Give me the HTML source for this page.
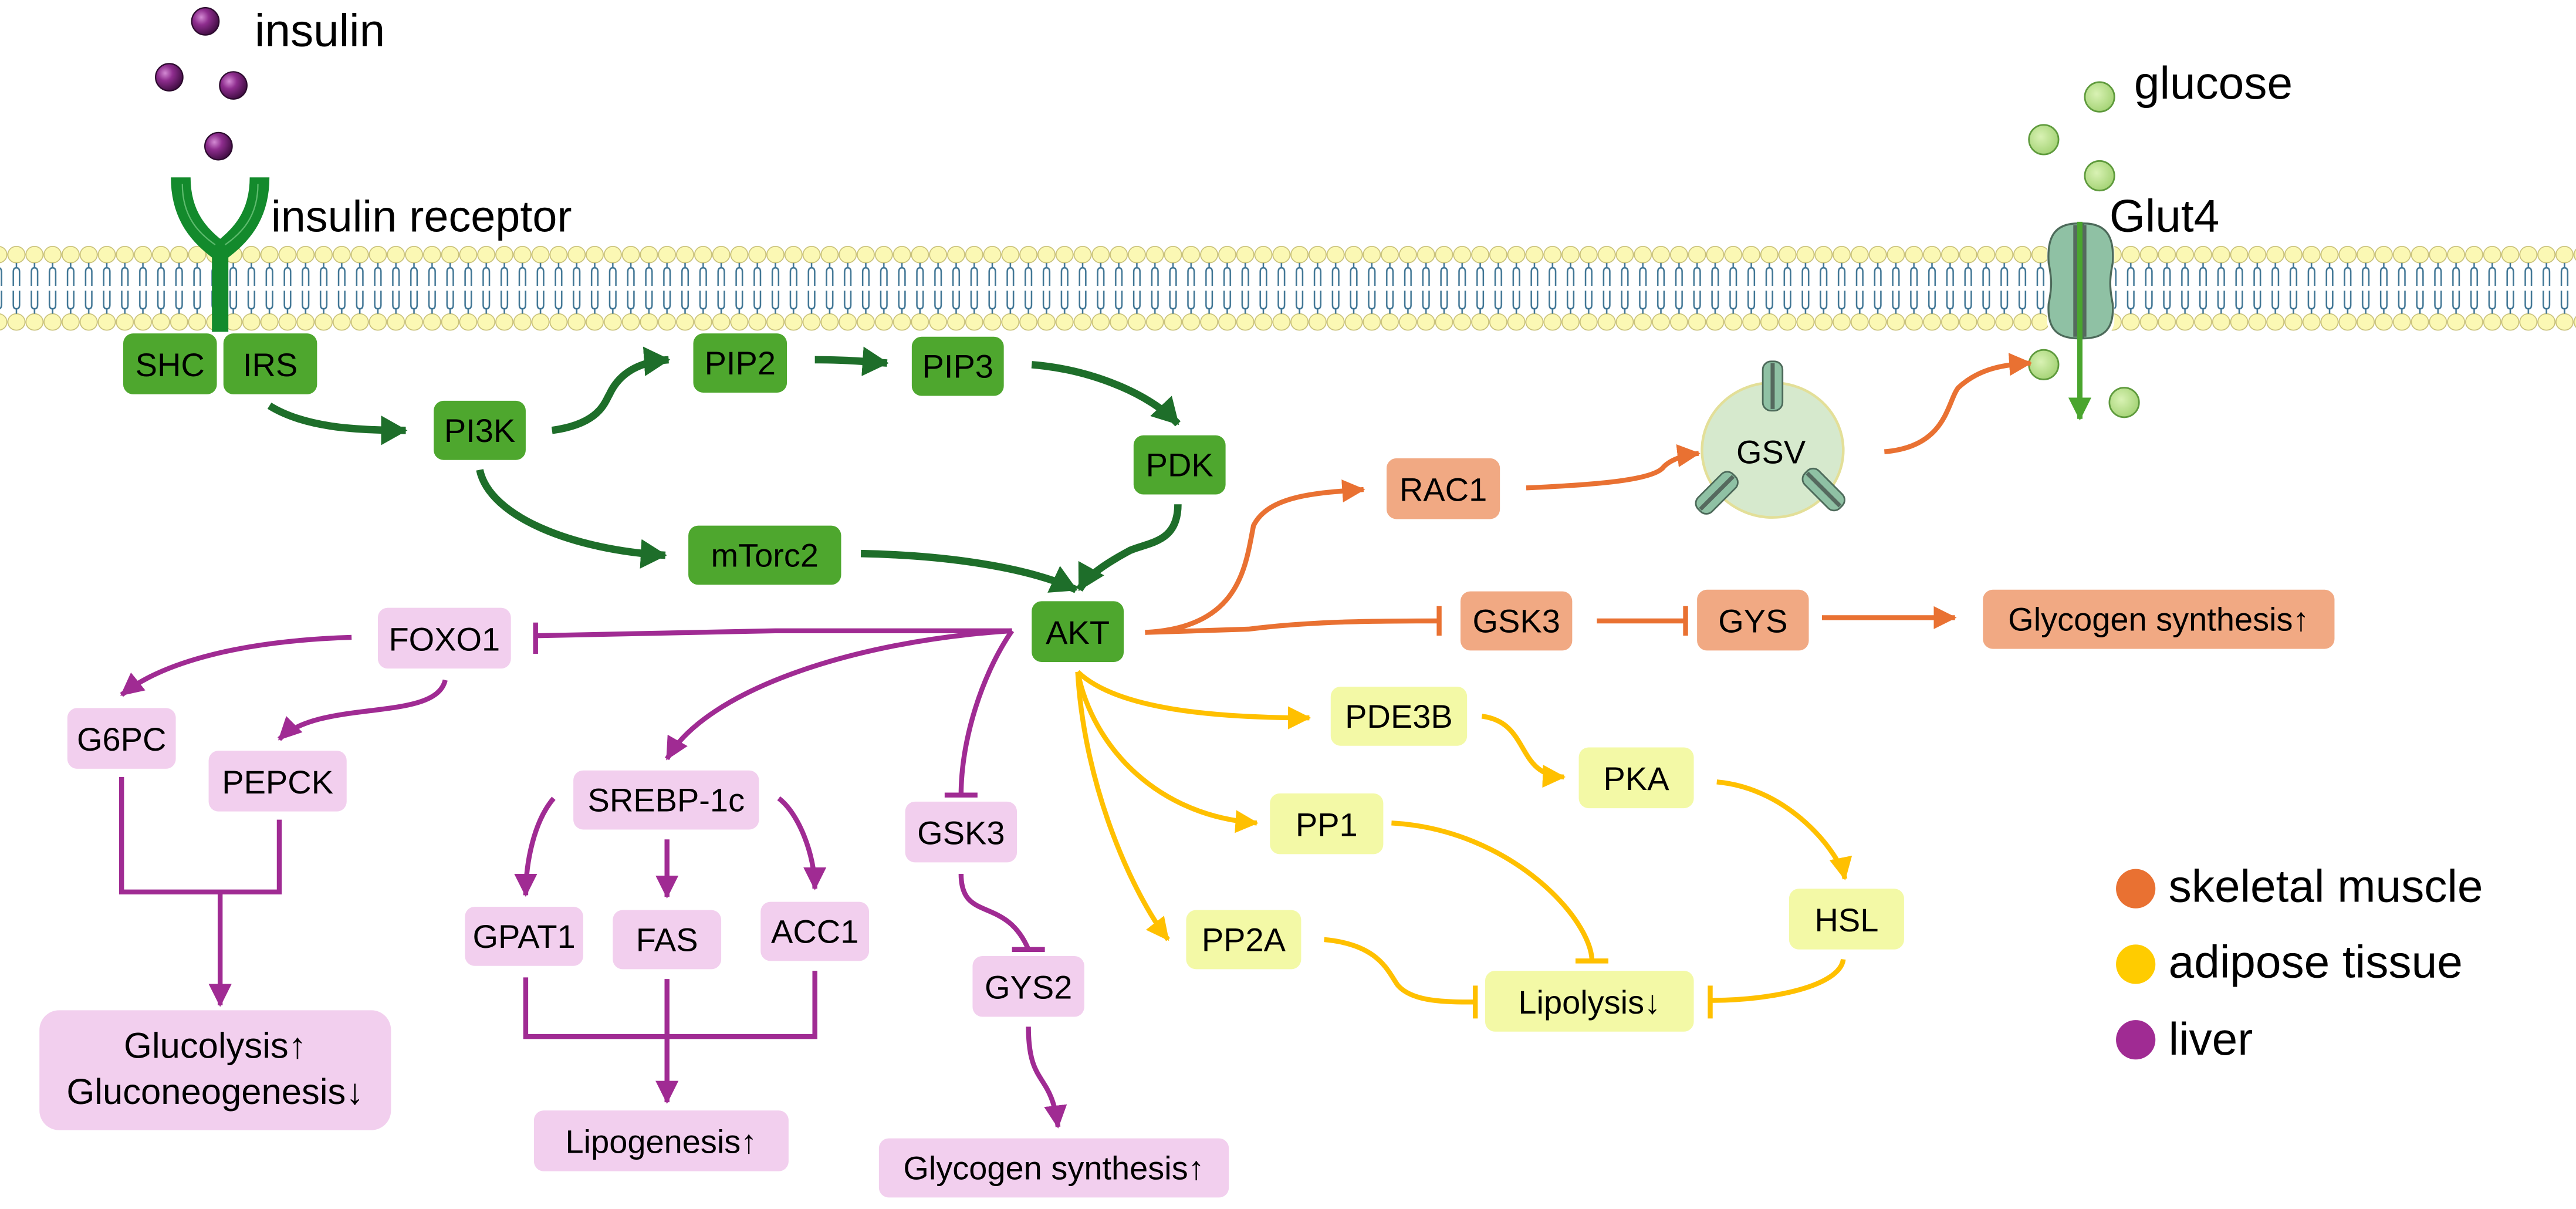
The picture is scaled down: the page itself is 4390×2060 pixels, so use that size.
<!DOCTYPE html>
<html><head><meta charset="utf-8"><style>
html,body{margin:0;padding:0;background:#fff;}
svg{display:block;}
text{font-family:"Liberation Sans",sans-serif;fill:#000;}
</style></head><body>
<svg width="4390" height="2060" viewBox="0 0 1568 736" preserveAspectRatio="none" xmlns="http://www.w3.org/2000/svg">
<defs>
<pattern id="mem" x="4.5" y="0" width="11" height="736" patternUnits="userSpaceOnUse">
<ellipse cx="5.5" cy="155" rx="5.2" ry="5" fill="#fbf8b4" stroke="#c8c078" stroke-width="0.6"/>
<ellipse cx="5.5" cy="196" rx="5.2" ry="5" fill="#fbf8b4" stroke="#c8c078" stroke-width="0.6"/>
<path d="M5.5 160 v3 M3.6 174 v-8.5 q0-2.5 1.9-2.5 q1.9 0 1.9 2.5 v8.5 M5.5 191 v-3 M3.6 177 v8.5 q0 2.5 1.9 2.5 q1.9 0 1.9-2.5 v-8.5" stroke="#3f7594" stroke-width="0.9" fill="none"/>
</pattern>
<marker id="ag" markerUnits="userSpaceOnUse" markerWidth="16" markerHeight="18" refX="15" refY="9" orient="auto"><path d="M0 0 L16 9 L0 18 z" fill="#1e6e2a"/></marker>
<marker id="ap" markerUnits="userSpaceOnUse" markerWidth="14" markerHeight="14" refX="13" refY="7" orient="auto"><path d="M0 0 L14 7 L0 14 z" fill="#a02b93"/></marker>
<marker id="ao" markerUnits="userSpaceOnUse" markerWidth="14" markerHeight="14" refX="13" refY="7" orient="auto"><path d="M0 0 L14 7 L0 14 z" fill="#e97132"/></marker>
<marker id="ay" markerUnits="userSpaceOnUse" markerWidth="14" markerHeight="14" refX="13" refY="7" orient="auto"><path d="M0 0 L14 7 L0 14 z" fill="#ffc000"/></marker>
<marker id="agl" markerUnits="userSpaceOnUse" markerWidth="14" markerHeight="14" refX="13" refY="7" orient="auto"><path d="M0 0 L14 7 L0 14 z" fill="#4aa52e"/></marker>
<radialGradient id="ins" cx="0.35" cy="0.35" r="0.7"><stop offset="0" stop-color="#d38ad3"/><stop offset="0.4" stop-color="#8e2d8e"/><stop offset="1" stop-color="#3e0c40"/></radialGradient>
<radialGradient id="glu" cx="0.4" cy="0.4" r="0.7"><stop offset="0" stop-color="#d9f2b4"/><stop offset="1" stop-color="#9fd06f"/></radialGradient>
</defs>

<rect x="0" y="145" width="1568" height="60" fill="url(#mem)"/>

<g stroke="#2c0a2e" stroke-width="0.8">
<circle cx="125" cy="13" r="8.3" fill="url(#ins)"/>
<circle cx="103" cy="47" r="8.3" fill="url(#ins)"/>
<circle cx="142" cy="52" r="8.3" fill="url(#ins)"/>
<circle cx="133" cy="89" r="8.3" fill="url(#ins)"/>
</g>
<text x="155" y="28" font-size="28">insulin</text>

<g fill="none" stroke-linecap="butt">
<path d="M110 108 C110 132 122 144 134 153 M158 108 C158 132 146 144 134 153" stroke="#138a2c" stroke-width="12"/>
<path d="M134 150 V202" stroke="#138a2c" stroke-width="10"/>
<path d="M111 112 C111 132 121 142 131 149 M157 112 C157 132 147 142 137 149" stroke="#7fd08a" stroke-width="0.8" opacity="0.7"/>
</g>
<text x="165" y="141" font-size="27">insulin receptor</text>

<g stroke="#5e9a3c" stroke-width="1">
<circle cx="1278" cy="59" r="9" fill="url(#glu)"/>
<circle cx="1244" cy="85" r="9" fill="url(#glu)"/>
<circle cx="1278" cy="107" r="9" fill="url(#glu)"/>
<circle cx="1244" cy="222" r="9" fill="url(#glu)"/>
<circle cx="1293" cy="245" r="9" fill="url(#glu)"/>
</g>
<text x="1299" y="60" font-size="28">glucose</text>
<text x="1284" y="141" font-size="28">Glut4</text>

<rect x="1246" y="135" width="41" height="72" rx="12" fill="#fff"/>
<path d="M1265 136 C1250 136 1246 145 1247 160 C1249 170 1249 175 1247 185 C1246 200 1252 206 1265 206 Z" fill="#8fc1a4" stroke="#4d6a5a" stroke-width="1.2"/>
<path d="M1268 136 C1283 136 1287 145 1286 160 C1284 170 1284 175 1286 185 C1287 200 1281 206 1268 206 Z" fill="#8fc1a4" stroke="#4d6a5a" stroke-width="1.2"/>
<rect x="1262" y="137" width="8" height="68" fill="#55695e"/>
<path d="M1266 135 V255" stroke="#4aa52e" stroke-width="3.2" marker-end="url(#agl)"/>

<ellipse cx="1079" cy="274" rx="43" ry="41" fill="#d6e9cd" stroke="#e3df98" stroke-width="1.6"/>
<g fill="#8fc1a4" stroke="#4d6a5a" stroke-width="1">
<rect x="1073" y="220" width="12" height="30" rx="5"/>
<rect x="1039" y="285" width="12" height="30" rx="5" transform="rotate(45 1045 300)"/>
<rect x="1104" y="283" width="12" height="30" rx="5" transform="rotate(-45 1110 298)"/>
</g>
<path d="M1079 221 V249" stroke="#55695e" stroke-width="2.5"/>
<path d="M1035 310 L1055 290 M1100 288 L1120 308" stroke="#55695e" stroke-width="2.5"/>
<text x="1078" y="282" font-size="20" text-anchor="middle">GSV</text>

<g fill="none" stroke="#1e6e2a" stroke-width="4.5" marker-end="url(#ag)">
<path d="M164 247 C185 260 215 262 247 262"/>
<path d="M336 262 C365 258 368 245 371 240 C378 225 392 220 407 219"/>
<path d="M496 219 C515 219 525 220 540 221"/>
<path d="M628 222 C665 225 700 240 717 258"/>
<path d="M292 286 C298 315 350 335 405 338"/>
<path d="M524 337 C575 338 625 345 655 359"/>
<path d="M717 307 C717 330 700 330 688 335 C675 342 662 350 657 359"/>
</g>

<g fill="none" stroke="#a02b93" stroke-width="3">
<path d="M616 384 L472 384 L327 387"/>
<path d="M326 379 V398"/>
<path d="M616 384 C520 390 430 420 406 462" marker-end="url(#ap)"/>
<path d="M616 384 C598 410 585 450 585 484"/>
<path d="M575 484 H595"/>
<path d="M214 388 C150 390 100 402 74 423" marker-end="url(#ap)"/>
<path d="M271 414 C265 440 195 425 170 450" marker-end="url(#ap)"/>
<path d="M74 473 V543 H170 V499"/>
<path d="M134 543 V612" marker-end="url(#ap)"/>
<path d="M337 486 C325 500 320 525 320 545" marker-end="url(#ap)"/>
<path d="M406 511 V546" marker-end="url(#ap)"/>
<path d="M474 486 C486 495 496 520 496 541" marker-end="url(#ap)"/>
<path d="M320 595 V631 H496 V591"/>
<path d="M406 596 V671" marker-end="url(#ap)"/>
<path d="M585 532 C585 562 612 545 626 578"/>
<path d="M616 578 H636"/>
<path d="M626 625 C626 662 640 652 644 686" marker-end="url(#ap)"/>
</g>

<g fill="none" stroke="#e97132" stroke-width="3">
<path d="M697 385 C755 382 758 345 763 320 C772 302 800 300 830 298" marker-end="url(#ao)"/>
<path d="M697 385 L760 383 C800 378 840 378 876 378"/>
<path d="M876 369 V387"/>
<path d="M972 378 H1026"/>
<path d="M1026 369 V387"/>
<path d="M1109 376 H1190" marker-end="url(#ao)"/>
<path d="M929 297 C975 295 1005 292 1012 285 C1016 280 1025 277 1034 276" marker-end="url(#ao)"/>
<path d="M1147 275 C1185 272 1185 245 1192 236 C1205 224 1220 222 1236 221" marker-end="url(#ao)"/>
</g>

<g fill="none" stroke="#ffc000" stroke-width="3">
<path d="M656 409 C680 432 740 437 797 437" marker-end="url(#ay)"/>
<path d="M656 409 C665 455 705 497 765 501" marker-end="url(#ay)"/>
<path d="M656 409 C660 480 690 545 711 572" marker-end="url(#ay)"/>
<path d="M902 436 C932 440 922 472 952 473" marker-end="url(#ay)"/>
<path d="M1045 476 C1090 480 1120 520 1123 535" marker-end="url(#ay)"/>
<path d="M847 501 C920 505 969 560 969 585"/>
<path d="M959 585 H979"/>
<path d="M806 572 C840 575 845 592 851 600 C860 610 880 610 898 610"/>
<path d="M898 600 V620"/>
<path d="M1122 584 C1120 600 1080 609 1041 609"/>
<path d="M1041 600 V620"/>
</g>

<g fill="#4ea72e">
<rect x="75" y="203" width="57" height="37" rx="6"/>
<rect x="136" y="203" width="57" height="37" rx="6"/>
<rect x="264" y="244" width="56" height="36" rx="6"/>
<rect x="422" y="203" width="57" height="36" rx="6"/>
<rect x="555" y="205" width="56" height="36" rx="6"/>
<rect x="690" y="265" width="56" height="36" rx="6"/>
<rect x="419" y="320" width="93" height="36" rx="6"/>
<rect x="628" y="366" width="56" height="37" rx="6"/>
</g>
<g font-size="20" text-anchor="middle" dominant-baseline="central">
<text x="103.5" y="222">SHC</text>
<text x="164.5" y="222">IRS</text>
<text x="292" y="262">PI3K</text>
<text x="450.5" y="221">PIP2</text>
<text x="583" y="223">PIP3</text>
<text x="718" y="283">PDK</text>
<text x="465.5" y="338">mTorc2</text>
<text x="656" y="385">AKT</text>
</g>

<g fill="#f2cfee">
<rect x="230" y="370" width="81" height="37" rx="6"/>
<rect x="41" y="431" width="66" height="37" rx="6"/>
<rect x="127" y="457" width="84" height="37" rx="6"/>
<rect x="24" y="615" width="214" height="73" rx="12"/>
<rect x="349" y="469" width="113" height="36" rx="6"/>
<rect x="283" y="552" width="72" height="36" rx="6"/>
<rect x="373" y="554" width="66" height="36" rx="6"/>
<rect x="463" y="549" width="66" height="36" rx="6"/>
<rect x="325" y="676" width="155" height="37" rx="6"/>
<rect x="551" y="488" width="68" height="37" rx="6"/>
<rect x="592" y="582" width="68" height="37" rx="6"/>
<rect x="535" y="693" width="213" height="36" rx="6"/>
</g>
<g font-size="20" text-anchor="middle" dominant-baseline="central">
<text x="270.5" y="389">FOXO1</text>
<text x="74" y="450">G6PC</text>
<text x="169" y="476">PEPCK</text>
<text x="405.5" y="487">SREBP-1c</text>
<text x="319" y="570">GPAT1</text>
<text x="406" y="572">FAS</text>
<text x="496" y="567">ACC1</text>
<text x="402.5" y="695">Lipogenesis↑</text>
<text x="585" y="507">GSK3</text>
<text x="626" y="601">GYS2</text>
<text x="641.5" y="711">Glycogen synthesis↑</text>
</g>
<text x="131" y="644" font-size="22" text-anchor="middle">Glucolysis↑</text>
<text x="131" y="672" font-size="22" text-anchor="middle">Gluconeogenesis↓</text>

<g fill="#f1a983">
<rect x="844" y="279" width="69" height="37" rx="6"/>
<rect x="889" y="360" width="68" height="36" rx="6"/>
<rect x="1033" y="359" width="68" height="37" rx="6"/>
<rect x="1207" y="359" width="214" height="36" rx="6"/>
</g>
<g font-size="20" text-anchor="middle" dominant-baseline="central">
<text x="878.5" y="298">RAC1</text>
<text x="923" y="378">GSK3</text>
<text x="1067" y="378">GYS</text>
<text x="1314" y="377">Glycogen synthesis↑</text>
</g>

<g fill="#f3f9a6">
<rect x="810" y="418" width="83" height="36" rx="6"/>
<rect x="961" y="455" width="70" height="37" rx="6"/>
<rect x="773" y="483" width="69" height="37" rx="6"/>
<rect x="722" y="554" width="70" height="36" rx="6"/>
<rect x="1089" y="541" width="70" height="37" rx="6"/>
<rect x="904" y="591" width="127" height="37" rx="6"/>
</g>
<g font-size="20" text-anchor="middle" dominant-baseline="central">
<text x="851.5" y="436">PDE3B</text>
<text x="996" y="474">PKA</text>
<text x="807.5" y="502">PP1</text>
<text x="757" y="572">PP2A</text>
<text x="1124" y="560">HSL</text>
<text x="967.5" y="610">Lipolysis↓</text>
</g>

<circle cx="1300" cy="541" r="12" fill="#e97132"/>
<circle cx="1300" cy="587" r="12" fill="#ffcc00"/>
<circle cx="1300" cy="633" r="12" fill="#a02b93"/>
<text x="1320" y="549" font-size="28">skeletal muscle</text>
<text x="1320" y="595" font-size="28">adipose tissue</text>
<text x="1320" y="642" font-size="28">liver</text>
</svg>
</body></html>
